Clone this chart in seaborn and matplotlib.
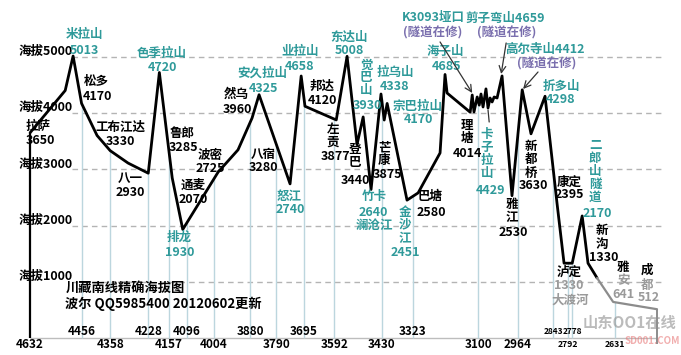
import numpy as np
import matplotlib
matplotlib.use("Agg")
import matplotlib.pyplot as plt
import seaborn as sns

# route profile: road kilometre marker (G318, counting down from Lhasa) and altitude in metres
route_km = [4632, 4512, 4485, 4456, 4403, 4358, 4297, 4228, 4190, 4146, 4110,
            3989, 3921, 3873, 3849, 3743, 3705, 3692, 3585, 3548, 3514, 3493,
            3466, 3432, 3421, 3411, 3343, 3305, 3230, 3213, 3206, 3127, 3120,
            3114, 3103, 3096, 3090, 3083, 3073, 3066, 3059, 3052, 3045, 3035,
            3018, 2984, 2949, 2919, 2871, 2830, 2806, 2778, 2744, 2724, 2693]
route_elev = [3650, 4400, 5013, 4170, 3600, 3330, 3110, 2930, 4720, 2845, 1930,
              2950, 3345, 3910, 4325, 2740, 4658, 4120, 3877, 5008, 3440, 3930,
              2640, 4338, 3875, 4170, 2451, 2580, 3290, 4685, 4355, 4014, 4320,
              4018, 4285, 4140, 4338, 4107, 4429, 4089, 4267, 4196, 4285, 4267,
              4659, 2530, 4412, 3630, 4298, 2395, 1330, 1330, 2170, 1330, 1067]

# last stretch towards Chengdu (drawn grey in the original)
tail_km = [2693, 2638, 2488]
tail_elev = [1067, 641, 512]

# km markers along the bottom, two staggered rows
ticks_low = [4632, 4358, 4157, 4004, 3790, 3592, 3430, 3100, 2964, 2792, 2631]
ticks_high = [4456, 4228, 4096, 3880, 3695, 3323, 2843, 2778]

levels = [1000, 2000, 3000, 4000, 5000]

TEAL = "#2f9a9a"
PURPLE = "#7a6fae"
GREY = "#9a9a9a"

sns.set_theme(style="white")
plt.rcParams["font.family"] = ["Noto Sans CJK SC", "DejaVu Sans"]
plt.rcParams["font.weight"] = "bold"

fig = plt.figure(figsize=(6.81, 3.55), dpi=100)
ax = fig.add_axes([0, 0, 1, 1])
ax.set_xlim(4735, 2406)
ax.set_ylim(-302, 6009)
ax.axis("off")

# horizontal altitude guides
for lv in levels:
    ax.hlines(lv, 4488, 2471, colors="#b4b4b4", linestyles=(0, (4, 3)), lw=1, zorder=1)
    ax.text(4673, lv + 90, f"海拔{lv}", ha="left", va="center", fontsize=9, color="black", zorder=4)

# baseline
ax.hlines(0, route_km[0], tail_km[-1], colors="#bdbdbd", lw=1, zorder=1)

# drop lines under each km marker
all_km = np.array(route_km + tail_km[1:])
all_elev = np.array(route_elev + tail_elev[1:])
for t in ticks_low[1:] + ticks_high:
    top = np.interp(-t, -all_km, all_elev)
    ax.vlines(t, 0, top, colors="#bcd6de", lw=1, zorder=1)

sns.lineplot(x=route_km, y=route_elev, sort=False, estimator=None, color="black", lw=2, ax=ax, zorder=3)
sns.lineplot(x=tail_km, y=tail_elev, sort=False, estimator=None, color="#8c8c8c", lw=1.6, ax=ax, zorder=3)
ax.vlines(route_km[0], 0, route_elev[0], colors="black", lw=1.6, zorder=3)
ax.vlines(tail_km[-1], -100, tail_elev[-1], colors="#8c8c8c", lw=1.4, zorder=3)

# km labels (the crowded ones near Kangding are set smaller, as in the original)
for t in ticks_low:
    fs = 6.2 if t < 2900 else 8.5
    ax.text(t, -124, str(t), ha="center", va="center", fontsize=fs, color="black")
for t in ticks_high:
    fs = 6.0 if t < 2900 else 8.5
    ax.text(t, 107, str(t), ha="center", va="center", fontsize=fs, color="black")

# place names: text, km, altitude position, colour
labels = [
    ("米拉山", 4447, 5387, TEAL), ("5013", 4447, 5103, TEAL),
    ("色季拉山", 4181, 5050, TEAL), ("4720", 4181, 4801, TEAL),
    ("安久拉山", 3839, 4712, TEAL), ("4325", 3835, 4427, TEAL),
    ("业拉山", 3709, 5085, TEAL), ("4658", 3709, 4818, TEAL),
    ("东达山", 3541, 5352, TEAL), ("5008", 3541, 5103, TEAL),
    ("觉\n巴\n山", 3483, 4623, TEAL), ("3930", 3480, 4125, TEAL),
    ("拉乌山", 3384, 4729, TEAL), ("4338", 3384, 4463, TEAL),
    ("宗巴拉山", 3308, 4107, TEAL), ("4170", 3305, 3876, TEAL),
    ("海子山", 3213, 5085, TEAL), ("4685", 3209, 4818, TEAL),
    ("K3093垭口", 3254, 5690, TEAL), ("(隧道在修)", 3254, 5423, PURPLE),
    ("剪子弯山4659", 3008, 5690, TEAL), ("(隧道在修)", 3001, 5423, PURPLE),
    ("高尔寺山4412", 2871, 5138, TEAL), ("(隧道在修)", 2864, 4872, PURPLE),
    ("折多山", 2816, 4481, TEAL), ("4298", 2819, 4249, TEAL),
    ("卡\n子\n拉\n山", 3069, 3272, TEAL), ("4429", 3059, 2631, TEAL),
    ("二\n郎\n山\n隧\n道", 2700, 2969, TEAL), ("2170", 2693, 2205, TEAL),
    ("排龙", 4122, 1796, TEAL), ("1930", 4119, 1529, TEAL),
    ("怒江", 3746, 2525, TEAL), ("2740", 3743, 2276, TEAL),
    ("竹卡", 3456, 2507, TEAL), ("2640", 3459, 2240, TEAL),
    ("澜沧江", 3456, 2009, TEAL),
    ("金\n沙\n江", 3349, 2009, TEAL), ("2451", 3349, 1529, TEAL),
    ("拉萨", 4605, 3769, "black"), ("3650", 4598, 3520, "black"),
    ("松多", 4406, 4552, "black"), ("4170", 4403, 4285, "black"),
    ("工布江达", 4324, 3752, "black"), ("3330", 4324, 3485, "black"),
    ("八一", 4290, 2845, "black"), ("2930", 4290, 2578, "black"),
    ("鲁郎", 4112, 3627, "black"), ("3285", 4109, 3378, "black"),
    ("波密", 4016, 3236, "black"), ("2725", 4016, 3005, "black"),
    ("通麦", 4075, 2720, "black"), ("2070", 4075, 2454, "black"),
    ("然乌", 3927, 4338, "black"), ("3960", 3924, 4054, "black"),
    ("八宿", 3835, 3272, "black"), ("3280", 3835, 3023, "black"),
    ("邦达", 3633, 4481, "black"), ("4120", 3633, 4214, "black"),
    ("左\n贡", 3596, 3600, "black"), ("3877", 3589, 3218, "black"),
    ("登\n巴", 3521, 3227, "black"), ("3440", 3521, 2809, "black"),
    ("芒\n康", 3421, 3263, "black"), ("3875", 3411, 2898, "black"),
    ("巴塘", 3264, 2507, "black"), ("2580", 3261, 2240, "black"),
    ("理\n塘", 3137, 3654, "black"), ("4014", 3137, 3272, "black"),
    ("雅\n江", 2984, 2258, "black"), ("2530", 2980, 1867, "black"),
    ("新\n都\n桥", 2919, 3165, "black"), ("3630", 2912, 2720, "black"),
    ("康定", 2789, 2774, "black"), ("2395", 2789, 2543, "black"),
    ("新\n沟", 2676, 1787, "black"), ("1330", 2669, 1440, "black"),
    ("泸定", 2789, 1173, "black"), ("1330", 2789, 925, GREY),
    ("大渡河", 2785, 676, GREY),
    ("雅", 2604, 1262, "black"), ("安", 2604, 1013, GREY), ("641", 2604, 765, GREY),
    ("成", 2522, 1209, "black"), ("都", 2522, 942, GREY), ("512", 2515, 729, GREY),
]
for txt, x, y, c in labels:
    ax.text(x, y, txt, ha="center", va="center", fontsize=9, color=c,
            linespacing=1.0, zorder=4)

# pointers to the tunnels / passes
arrow = dict(arrowstyle="->", color="#333333", lw=0.9, shrinkA=0, shrinkB=0)
ax.annotate("", xy=(3120, 4356), xytext=(3230, 5263), arrowprops=arrow, zorder=4)
ax.annotate("", xy=(3021, 4694), xytext=(3004, 5245), arrowprops=arrow, zorder=4)
ax.annotate("", xy=(2946, 4427), xytext=(2895, 4729), arrowprops=arrow, zorder=4)
ax.plot([3062, 3066], [3840, 4054], color="#333333", lw=0.9, zorder=4)

# title block
ax.text(4512, 889, "川藏南线精确海拔图", ha="left", va="center", fontsize=9.5, color="black")
ax.text(4512, 605, "波尔 QQ5985400 20120602更新", ha="left", va="center", fontsize=9.5, color="black")

# site watermark
ax.text(2583, 267, "山东OO1在线", ha="center", va="center", fontsize=11,
        color="#8f8f8f", alpha=0.6, zorder=5)
ax.text(2503, -60, "SD001.COM", ha="center", va="center", fontsize=7,
        color="#e87a7a", alpha=0.6, zorder=5)

fig.savefig("out.png", dpi=100)
